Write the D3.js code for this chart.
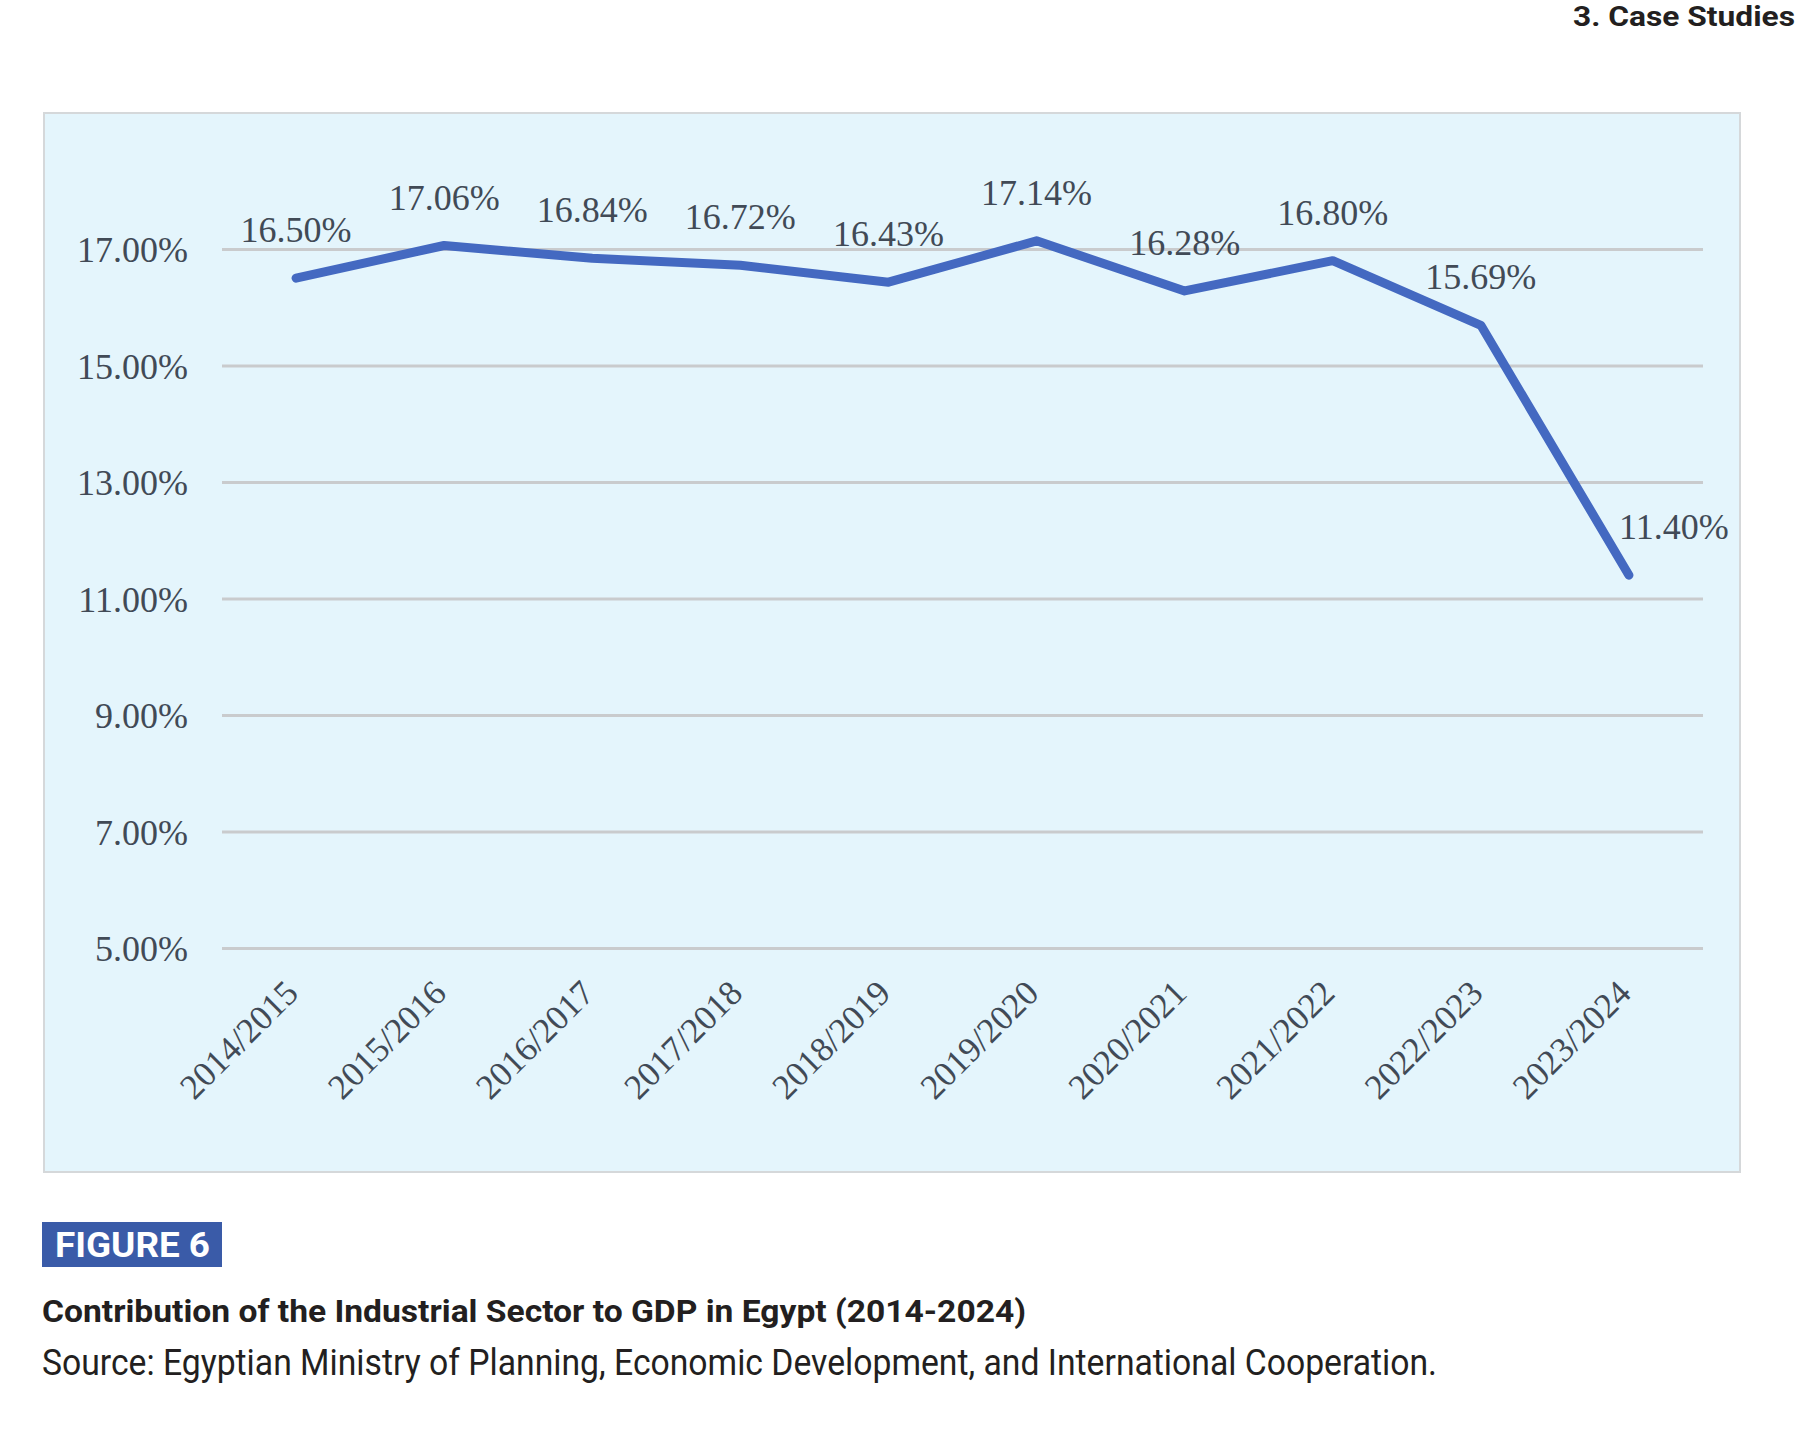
<!DOCTYPE html>
<html>
<head>
<meta charset="utf-8">
<script src="https://cdn.jsdelivr.net/npm/d3@7"></script>
<style>
  body { margin: 0; background: #fff; }
  svg { display: block; }
</style>
</head>
<body>
<svg id="chart" width="1808" height="1441"></svg>
<script>
// data
const years = ['2014/2015', '2015/2016', '2016/2017', '2017/2018', '2018/2019',
    '2019/2020', '2020/2021', '2021/2022', '2022/2023', '2023/2024'];
const shares = [16.50, 17.06, 16.84, 16.72, 16.43, 17.14, 16.28, 16.80, 15.69, 11.40];
const yTicks = [5, 7, 9, 11, 13, 15, 17];

const svg = d3.select('#chart');
const serif = '"Liberation Serif", "Times New Roman", serif';
const sans = 'Roboto, "Noto Sans", sans-serif';
const textColor = '#414a56';

// panel
svg.append('rect')
    .attr('x', 44).attr('y', 113)
    .attr('width', 1696).attr('height', 1059)
    .attr('fill', '#e4f5fc')
    .attr('stroke', '#d5d8da').attr('stroke-width', 2);

// scales
const x = d3.scaleBand().domain(years).range([222, 1703]);
const y = d3.scaleLinear().domain([5, 17]).range([948, 249]);
const cx = d => x(d) + x.bandwidth() / 2;

// gridlines + y labels
const yAxis = d3.axisLeft(y).tickValues(yTicks)
    .tickSize(-(1703 - 222))
    .tickPadding(34)
    .tickFormat(d => d3.format('.2f')(d) + '%');

const gy = svg.append('g').attr('transform', 'translate(222,0)').call(yAxis);
gy.select('.domain').remove();
gy.selectAll('.tick line').attr('stroke', '#c9cbcd').attr('stroke-width', 3);
gy.selectAll('.tick text')
    .attr('font-family', serif).attr('font-size', 36)
    .attr('fill', textColor).attr('dy', '0.35em');

// x labels
const xAxis = d3.axisBottom(x).tickSize(0).tickPadding(0);
const gx = svg.append('g').attr('transform', 'translate(0,948)').call(xAxis);
gx.select('.domain').remove();
gx.selectAll('.tick text')
    .attr('font-family', serif).attr('font-size', 35)
    .attr('fill', textColor)
    .attr('text-anchor', 'end')
    .attr('y', 0).attr('dy', 0)
    .attr('transform', 'translate(4,47) rotate(-45)');

// line
const line = d3.line()
    .x((d, i) => cx(years[i]))
    .y(d => y(d));

svg.append('path')
    .datum(shares)
    .attr('d', line)
    .attr('fill', 'none')
    .attr('stroke', '#4469c1')
    .attr('stroke-width', 9)
    .attr('stroke-linejoin', 'round')
    .attr('stroke-linecap', 'round');

// data labels (last one sits to the right of its point)
svg.append('g').selectAll('text')
    .data(shares)
    .join('text')
    .attr('x', (d, i) => cx(years[i]) + (i === shares.length - 1 ? 45 : 0))
    .attr('y', d => y(d) - 36)
    .attr('text-anchor', 'middle')
    .attr('font-family', serif).attr('font-size', 36)
    .attr('fill', textColor)
    .text(d => d3.format('.2f')(d) + '%');

// page header
svg.append('text')
    .attr('x', 1795).attr('y', 26)
    .attr('text-anchor', 'end')
    .attr('font-family', sans).attr('font-weight', 700).attr('font-size', 27)
    .attr('fill', '#231f20')
    .attr('textLength', 222).attr('lengthAdjust', 'spacingAndGlyphs')
    .text('3. Case Studies');

// figure tag
svg.append('rect')
    .attr('x', 42).attr('y', 1222)
    .attr('width', 180).attr('height', 45)
    .attr('fill', '#3a5ba8');
svg.append('text')
    .attr('x', 55).attr('y', 1257)
    .attr('font-family', sans).attr('font-weight', 700).attr('font-size', 35)
    .attr('fill', '#fff')
    .attr('textLength', 155).attr('lengthAdjust', 'spacingAndGlyphs')
    .text('FIGURE 6');

svg.append('text')
    .attr('x', 42).attr('y', 1322)
    .attr('font-family', sans).attr('font-weight', 700).attr('font-size', 31)
    .attr('fill', '#231f20')
    .attr('textLength', 984).attr('lengthAdjust', 'spacingAndGlyphs')
    .text('Contribution of the Industrial Sector to GDP in Egypt (2014-2024)');

svg.append('text')
    .attr('x', 42).attr('y', 1375)
    .attr('font-family', sans).attr('font-size', 36)
    .attr('fill', '#231f20')
    .attr('textLength', 1395).attr('lengthAdjust', 'spacingAndGlyphs')
    .text('Source: Egyptian Ministry of Planning, Economic Development, and International Cooperation.');
</script>
</body>
</html>
